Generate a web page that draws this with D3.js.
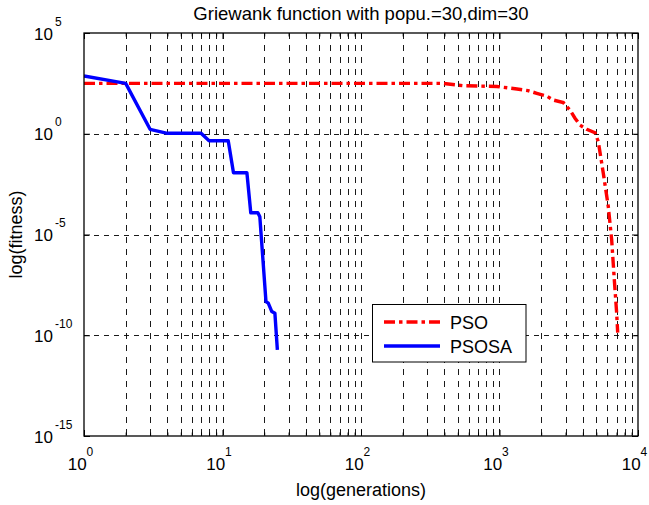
<!DOCTYPE html>
<html><head><meta charset="utf-8">
<script src="https://cdn.jsdelivr.net/npm/d3@7"></script>
<style>
body{margin:0;background:#fff;}
text{font-family:"Liberation Sans",Arial,Helvetica,sans-serif;fill:#000;}
</style></head>
<body>
<svg id="chart" width="649" height="505"></svg>
<script>
// ---- data ----
const title = "Griewank function with popu.=30,dim=30";
const xLabel = "log(generations)";
const yLabel = "log(fitness)";
const xTickValues = [1, 10, 100, 1000, 10000];
const xTickExps = ["0", "1", "2", "3", "4"];
const yTickValues = [1e-15, 1e-10, 1e-5, 1, 1e5];
const yTickExps = ["-15", "-10", "-5", "0", "5"];
const seriesNames = ["PSO", "PSOSA"];

const psoGen = [1, 391, 545, 959, 1337, 1606, 1857, 2193, 2448, 2890, 3229, 3509, 3812, 4265, 4895, 5168, 5616, 6104, 6456, 6745, 7016, 7134];
const psoFit = [316, 316, 243, 221, 166, 138, 102, 74, 47, 35, 14.8, 5.9, 2.7, 1.66, 1.12, 0.41, 0.011, 2.4e-4, 5.4e-6, 5.6e-8, 1.23e-9, 1.35e-10];

const psosaGen = [1, 2, 3, 4, 7, 8, 11, 12, 15, 16, 18, 18.6, 20.6, 21.4, 22.7, 23.9, 24.9];
const psosaFit = [740, 316, 1.66, 1.05, 1.05, 0.45, 0.45, 0.0117, 0.0117, 1.2e-4, 1.2e-4, 7.6e-5, 4.7e-9, 3.9e-9, 1.5e-9, 1.23e-9, 1.86e-11];

// ---- layout ----
const svg = d3.select("#chart");
const L = 84, R = 638, T = 33, B = 436;
const x = d3.scaleLog().domain([1, 1e4]).range([L, R]);
const y = d3.scaleLog().domain([1e-15, 1e5]).range([B, T]);

const xMinor = [];
for (let k = 0; k < 4; k++) for (let m = 2; m <= 9; m++) xMinor.push(m * Math.pow(10, k));
const xMajorInner = xTickValues.slice(1, -1);
const yMajorInner = yTickValues.slice(1, -1);

svg.append("rect").attr("x", L).attr("y", T).attr("width", R - L).attr("height", B - T).attr("fill", "#fff");

// grid
const grid = svg.append("g");
grid.selectAll(".vg").data(xMinor.concat(xMajorInner)).enter().append("line")
  .attr("x1", d => Math.round(x(d)) + 0.5).attr("x2", d => Math.round(x(d)) + 0.5)
  .attr("y1", T).attr("y2", B)
  .attr("stroke", "#000").attr("stroke-width", 0.9).attr("stroke-dasharray", "6,6");
grid.selectAll(".hg").data(yMajorInner).enter().append("line")
  .attr("x1", L).attr("x2", R)
  .attr("y1", d => Math.round(y(d)) + 0.5).attr("y2", d => Math.round(y(d)) + 0.5)
  .attr("stroke", "#000").attr("stroke-width", 0.9).attr("stroke-dasharray", "5,5");

// axes (ticks inward)
function styleAxis(g) {
  g.select(".domain").remove();
  g.selectAll("text").remove();
  g.selectAll("line").attr("stroke", "#000").attr("stroke-width", 1);
}
svg.append("g").attr("transform", `translate(0,${B})`)
  .call(d3.axisBottom(x).tickValues(xTickValues).tickSize(-6).tickFormat("")).call(styleAxis);
svg.append("g").attr("transform", `translate(0,${B})`)
  .call(d3.axisBottom(x).tickValues(xMinor).tickSize(-3.5).tickFormat("")).call(styleAxis);
svg.append("g").attr("transform", `translate(0,${T})`)
  .call(d3.axisTop(x).tickValues(xTickValues).tickSize(-6).tickFormat("")).call(styleAxis);
svg.append("g").attr("transform", `translate(0,${T})`)
  .call(d3.axisTop(x).tickValues(xMinor).tickSize(-3.5).tickFormat("")).call(styleAxis);
svg.append("g").attr("transform", `translate(${L},0)`)
  .call(d3.axisLeft(y).tickValues(yTickValues).tickSize(-6).tickFormat("")).call(styleAxis);
svg.append("g").attr("transform", `translate(${R},0)`)
  .call(d3.axisRight(y).tickValues(yTickValues).tickSize(-6).tickFormat("")).call(styleAxis);

// lines
const psoData = psoGen.map((g, i) => [g, psoFit[i]]);
const psosaData = psosaGen.map((g, i) => [g, psosaFit[i]]);
const line = d3.line().x(d => x(d[0])).y(d => y(d[1]));
svg.append("clipPath").attr("id", "clip").append("rect")
  .attr("x", L).attr("y", T).attr("width", R - L).attr("height", B - T);
svg.append("path").datum(psoData).attr("d", line).attr("fill", "none")
  .attr("stroke", "#ff0000").attr("stroke-width", 3.4).attr("stroke-dasharray", "11,4,3.5,4")
  .attr("clip-path", "url(#clip)");
svg.append("path").datum(psosaData).attr("d", line).attr("fill", "none")
  .attr("stroke", "#0000ff").attr("stroke-width", 3.4).attr("stroke-linejoin", "round")
  .attr("clip-path", "url(#clip)");

// frame
svg.append("rect").attr("x", L).attr("y", T).attr("width", R - L).attr("height", B - T)
  .attr("fill", "none").attr("stroke", "#000").attr("stroke-width", 1.3);

// tick labels
xTickValues.forEach((v, i) => {
  const t = svg.append("text").attr("x", x(v) - 3.5).attr("y", 470).attr("text-anchor", "middle").style("font-size", "17px");
  t.append("tspan").text("10");
  t.append("tspan").attr("dy", -14).style("font-size", "12px").text(xTickExps[i]);
});
yTickValues.forEach((v, i) => {
  const yy = y(v);
  svg.append("text").attr("x", 53).attr("y", yy + 6.5).attr("text-anchor", "end").style("font-size", "17px").text("10");
  svg.append("text").attr("x", 55).attr("y", yy - 7.5).attr("text-anchor", "start").style("font-size", "12px").text(yTickExps[i]);
});

// title & labels
svg.append("text").attr("x", (L + R) / 2).attr("y", 20).attr("text-anchor", "middle").style("font-size", "18.5px").text(title);
svg.append("text").attr("x", (L + R) / 2).attr("y", 496).attr("text-anchor", "middle").style("font-size", "18px").text(xLabel);
svg.append("text").attr("transform", `translate(22,${(T + B) / 2}) rotate(-90)`).attr("text-anchor", "middle").style("font-size", "18px").text(yLabel);

// legend
const lg = svg.append("g");
lg.append("rect").attr("x", 372.5).attr("y", 304.5).attr("width", 153.5).attr("height", 57.5)
  .attr("fill", "#fff").attr("stroke", "#000").attr("stroke-width", 1);
const legendStyles = [
  {color: "#ff0000", dash: "11,4,3.5,4", y: 322},
  {color: "#0000ff", dash: null, y: 346}
];
seriesNames.forEach((n, i) => {
  const s = legendStyles[i];
  const ln = lg.append("line").attr("x1", 384).attr("x2", 440).attr("y1", s.y).attr("y2", s.y)
    .attr("stroke", s.color).attr("stroke-width", 3.4);
  if (s.dash) ln.attr("stroke-dasharray", s.dash);
  lg.append("text").attr("x", 450).attr("y", s.y + 6.5).style("font-size", "18px").text(n);
});
</script>
</body></html>
